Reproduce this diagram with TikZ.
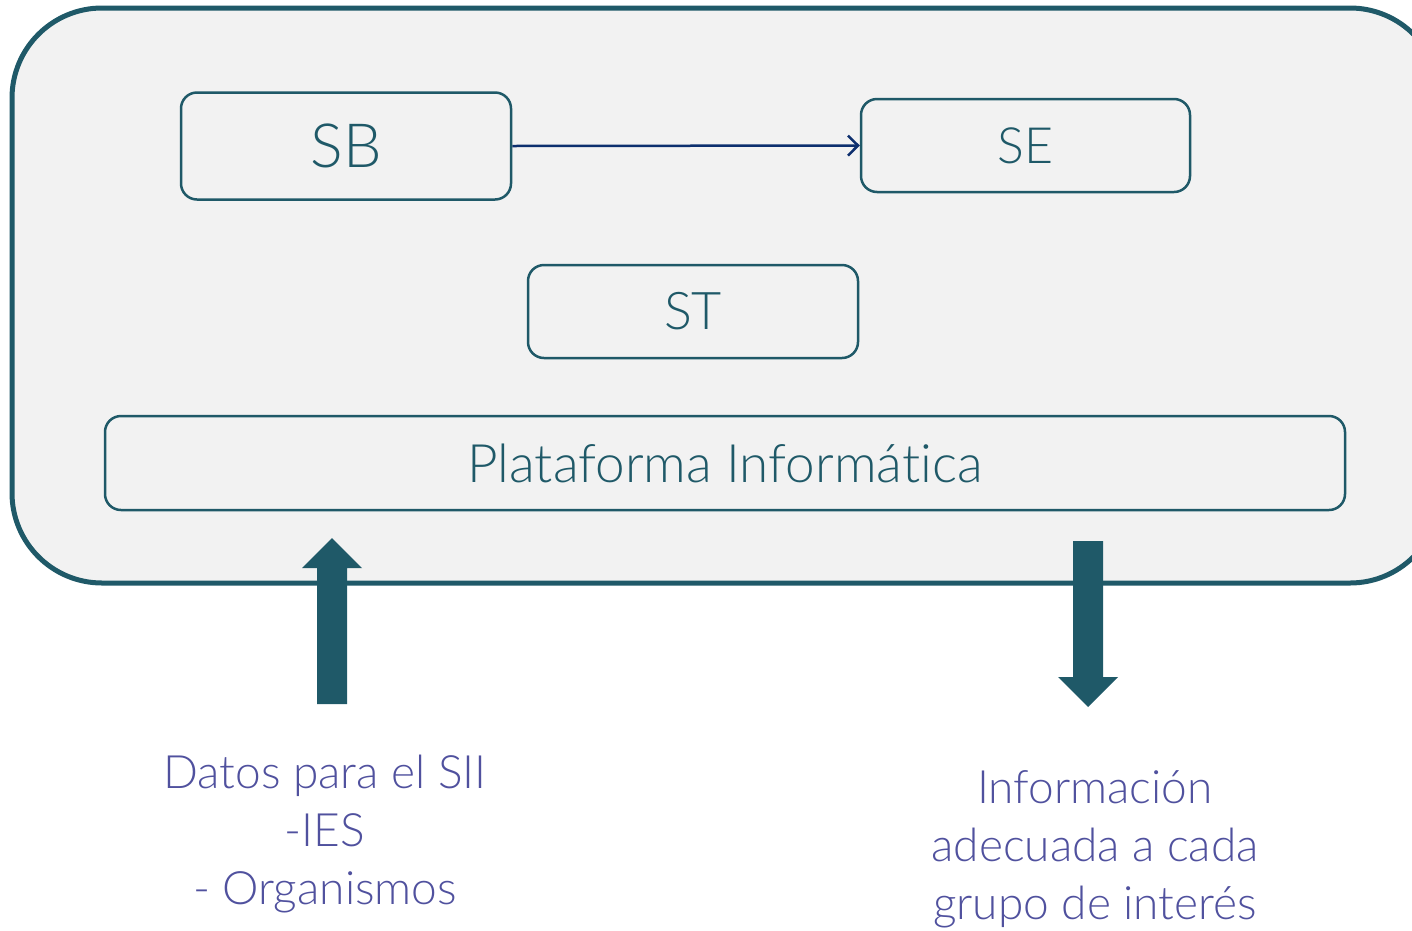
\documentclass[tikz,border=0pt]{standalone}
\usepackage{fontspec}
\setmainfont{Lato}[UprightFont=* Light,RawFeature=-liga]
\usetikzlibrary{arrows.meta}
\definecolor{teal}{HTML}{1F5968}
\definecolor{panel}{HTML}{F2F2F2}
\definecolor{navy}{HTML}{0D2F6E}
\definecolor{lbl}{HTML}{50519E}
\begin{document}
\begin{tikzpicture}[x=1pt,y=-1pt,
  box/.style={draw=teal,line width=2.5pt,fill=panel,rounded corners=16pt,text=teal},
  bigarrow/.style={fill=teal,draw=none},
  lab/.style={text=lbl,align=center,font=\fontsize{46}{58}\selectfont}]
\useasboundingbox (0,0) rectangle (1412,930);
\draw[teal,line width=5pt,fill=panel,rounded corners=90pt] (12,8) rectangle (1440,583);
\node[box,minimum width=330pt,minimum height=107pt,font=\fontsize{61}{61}\selectfont] (sb) at (346,146) {SB};
\node[box,minimum width=329pt,minimum height=93pt,font=\fontsize{50}{50}\selectfont] (se) at (1025.5,145.5) {SE};
\node[box,minimum width=330pt,minimum height=93pt,font=\fontsize{52}{52}\selectfont] (st) at (693,311.5) {ST};
\node[box,minimum width=1240pt,minimum height=94pt,font=\fontsize{53}{53}\selectfont] (pi) at (725,463) {Plataforma Informática};
\draw[navy,line width=2.5pt,-{Straight Barb[length=10pt,width=20pt,line width=2.5pt]}] (sb.east) -- (se.west);
\node[lab] (datos) at (325,834) {Datos para el SII\\-IES\\- Organismos};
\node[lab] (info) at (1095,849) {Información\\adecuada a cada\\grupo de interés};
\coordinate (upbase) at (332,704);
\coordinate (dntop) at (1088,541);
\fill[bigarrow] (upbase) ++(-15,0) -- ++(0,-136) -- ++(-15,0) -- (332,538) -- (362,568) -- ++(-15,0) -- ++(0,136) -- cycle;
\fill[bigarrow] (dntop) ++(-15,0) -- ++(0,136) -- ++(-15,0) -- (1088,707) -- (1118,677) -- ++(-15,0) -- ++(0,-136) -- cycle;
\end{tikzpicture}
\end{document}
